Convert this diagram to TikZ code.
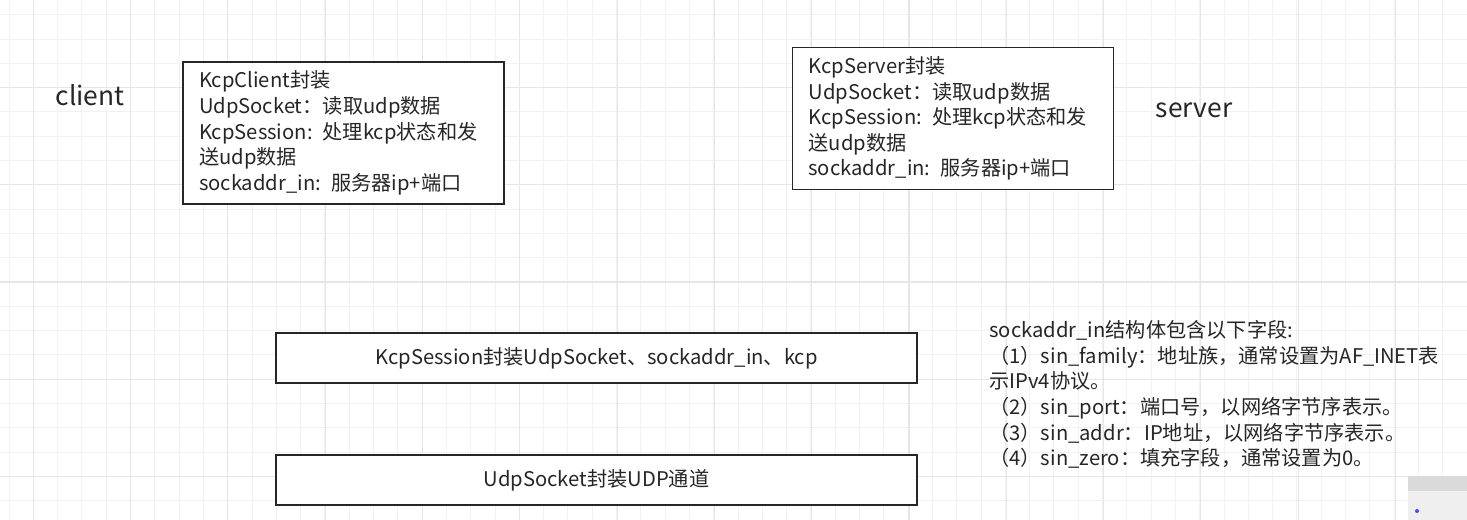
\documentclass[tikz,border=0pt]{standalone}
\usepackage{fontspec}
\setmainfont{Noto Sans CJK SC}
\definecolor{gridlight}{HTML}{F2F2F2}
\definecolor{griddark}{HTML}{E6E6E6}
\definecolor{inkgray}{HTML}{262626}
\definecolor{panelgray}{HTML}{EFEFEF}
\definecolor{panelbar}{HTML}{DADADA}

\begin{document}
\begin{tikzpicture}[x=0.02cm,y=-0.02cm]
        \tikzstyle{every node}+=[inner sep=0pt, text=inkgray]
        \tikzstyle{minorline}=[draw=gridlight, line width=0.5pt]
        \tikzstyle{majorline}=[draw=griddark, line width=0.6pt]
        \tikzstyle{bodytext}=[font=\fontsize{11.5}{14.6}\selectfont]
        \tikzstyle{sidelabel}=[font=\fontsize{15}{18}\selectfont]
        \tikzstyle{infobox}=[bodytext, draw=inkgray, fill=white, line width=0.9pt, align=left,
                text width=5.78cm, inner xsep=0.32cm, minimum height=2.84cm]
        \tikzstyle{layerbox}=[bodytext, draw=inkgray, fill=white, line width=0.9pt,
                minimum width=12.82cm, minimum height=1cm]
        \useasboundingbox (0,0) rectangle (1467,520);
        \fill [white] (0,0) rectangle (1467,520);
        % canvas grid
        \foreach \i in {0,...,60}
                \draw [minorline] ({9+24.3*\i},0) -- ({9+24.3*\i},520);
        \foreach \j in {0,...,20}
                \draw [minorline] (0,{14.7+24.3*\j}) -- (1467,{14.7+24.3*\j});
        \foreach \i in {0,...,14}
                \draw [majorline] ({33.3+97.3*\i},0) -- ({33.3+97.3*\i},520);
        \foreach \j in {0,...,4}
                \draw [majorline] (0,{87.4+97.3*\j}) -- (1467,{87.4+97.3*\j});
        % client / server
        \node (clientlbl) [sidelabel] at (90,95) {client};
        \node (clientbox) [infobox] at (343.5,133) {KcpClient封装\\
                UdpSocket：读取udp数据\\
                KcpSession: 处理kcp状态和发\\
                送udp数据\\
                sockaddr\_in: 服务器ip+端口};
        \node (serverbox) [infobox] at (953,118.5) {KcpServer封装\\
                UdpSocket：读取udp数据\\
                KcpSession: 处理kcp状态和发\\
                送udp数据\\
                sockaddr\_in: 服务器ip+端口};
        \node (serverlbl) [sidelabel] at (1194,110) {server};
        % layers
        \node (sessionbox) [layerbox] at (596.5,358) {KcpSession封装UdpSocket、sockaddr\_in、kcp};
        \node (udpbox) [layerbox] at (596.5,480) {UdpSocket封装UDP通道};
        % sockaddr_in fields
        \node (fieldnote) [bodytext, align=left, anchor=north west] at (989,320) {sockaddr\_in结构体包含以下字段:\\
                （1）sin\_family：地址族，通常设置为AF\_INET表\\
                示IPv4协议。\\
                （2）sin\_port：端口号，以网络字节序表示。\\
                （3）sin\_addr：IP地址，以网络字节序表示。\\
                （4）sin\_zero：填充字段，通常设置为0。};
        % capture widget
        \fill [panelgray] (1408,476) rectangle (1467,520);
        \fill [panelbar] (1408,476) rectangle (1467,491);
        \fill [blue!70] (1417,511) circle (2);
\end{tikzpicture}
\end{document}
